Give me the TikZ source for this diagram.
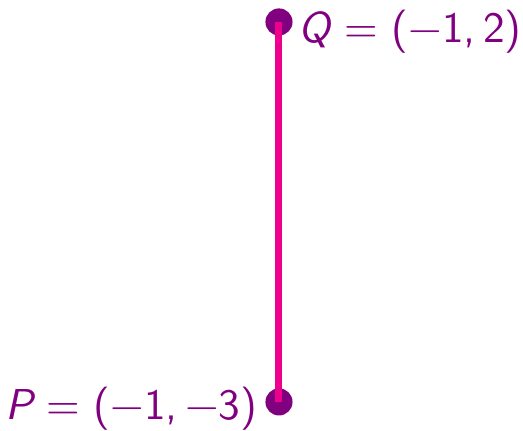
\documentclass[tikz,border=0pt]{standalone}
\usepackage{fontspec}
\usepackage{xcolor}
\usepackage{tikz}
\usetikzlibrary{calc}
\definecolor{MoradoPunto}{RGB}{128,0,128}
\definecolor{MagentaSeg}{RGB}{236,0,140}
\newcommand{\letrapunto}[1]{{\itshape #1}}
\newcommand{\igual}{\hspace{0.32em}=\hspace{0.32em}}

\begin{document}
\begin{tikzpicture}[x=0.6677cm,y=0.6677cm,
  etiqueta/.style={text=MoradoPunto,inner sep=0pt,font=\sffamily\fontsize{10.8}{13}\selectfont}]
  \useasboundingbox (-4.671,-3.382) rectangle (2.211,2.289);
  \coordinate (Q) at (-1,2);
  \coordinate (P) at (-1,-3);
  \fill[MoradoPunto] (Q) circle (0.119cm);
  \fill[MoradoPunto] (P) circle (0.119cm);
  \draw[MagentaSeg,line width=1.75pt] (Q) -- (P);
  \node[etiqueta,anchor=base west] (etQ) at ($(Q)+(0.167cm,-0.1845cm)$) {\letrapunto{Q}\igual(−1,\,2)};
  \node[etiqueta,anchor=base east] (etP) at ($(P)+(-0.1845cm,-0.158cm)$) {\letrapunto{P}\igual(−1,\,−3)};
\end{tikzpicture}
\end{document}
